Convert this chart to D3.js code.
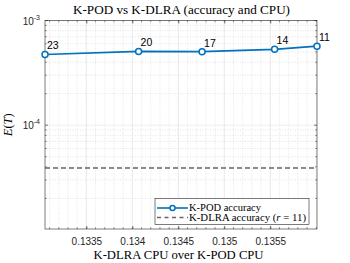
<!DOCTYPE html>
<html>
<head>
<meta charset="utf-8">
<script src="https://cdn.jsdelivr.net/npm/d3@7"></script>
<style>
  body { margin: 0; background: #fff; }
  svg { display: block; }
</style>
</head>
<body>
<div id="chart"></div>
<script>
// Data
var cpuRatio = [0.13305, 0.134068, 0.134758, 0.135547, 0.136008];
var kpodErr = [4.74e-4, 5.07e-4, 5.04e-4, 5.30e-4, 5.69e-4];
var rankLabels = ["23", "20", "17", "14", "11"];
var kdlraErr = 3.9e-5;
var xTicks = [0.1335, 0.134, 0.1345, 0.135, 0.1355];
var xTickLabels = ["0.1335", "0.134", "0.1345", "0.135", "0.1355"];
var yTicks = [1e-4, 1e-3];
var yTickExps = ["-4", "-3"];

var width = 350, height = 263;
var m = { left: 45, right: 33, top: 20.5, bottom: 34 };
var pw = width - m.left - m.right;
var ph = height - m.top - m.bottom;
var axCol = "#262626";
var blue = "#0072BD";

var svg = d3.select("#chart").append("svg")
	.attr("width", width)
	.attr("height", height);

var x = d3.scaleLinear()
	.domain([cpuRatio[0], cpuRatio[cpuRatio.length - 1]])
	.range([0, pw]);
var y = d3.scaleLog()
	.domain([1.02e-5, 1e-3])
	.range([ph, 0]);

var g = svg.append("g")
	.attr("transform", "translate(" + m.left + "," + m.top + ")");

// minor grid values
var xMinor = d3.range(0.1331, 0.1361, 0.0001).filter(function(v){ return v > x.domain()[0] && v < x.domain()[1]; });
var yMinor = [];
[1e-5, 1e-4].forEach(function(b){
	for (var k = 2; k <= 9; k++) { if (b * k > y.domain()[0]) yMinor.push(b * k); }
});

// minor grid (dotted)
g.append("g").selectAll("line.xm")
	.data(xMinor).enter().append("line")
	.attr("x1", function(d){ return x(d); }).attr("x2", function(d){ return x(d); })
	.attr("y1", 0).attr("y2", ph)
	.attr("stroke", "#d4d4d4").attr("stroke-width", 0.6)
	.attr("stroke-dasharray", "1,1.5");
g.append("g").selectAll("line.ym")
	.data(yMinor).enter().append("line")
	.attr("x1", 0).attr("x2", pw)
	.attr("y1", function(d){ return y(d); }).attr("y2", function(d){ return y(d); })
	.attr("stroke", "#d4d4d4").attr("stroke-width", 0.6)
	.attr("stroke-dasharray", "1,1.5");

// major grid (light solid)
g.append("g").selectAll("line.xg")
	.data(xTicks).enter().append("line")
	.attr("x1", function(d){ return x(d); }).attr("x2", function(d){ return x(d); })
	.attr("y1", 0).attr("y2", ph)
	.attr("stroke", "#e3e3e3").attr("stroke-width", 0.6);
g.append("g").selectAll("line.yg")
	.data(yTicks).enter().append("line")
	.attr("x1", 0).attr("x2", pw)
	.attr("y1", function(d){ return y(d); }).attr("y2", function(d){ return y(d); })
	.attr("stroke", "#e3e3e3").attr("stroke-width", 0.6);

// Axes, ticks inside
var xAxis = g.append("g")
	.attr("transform", "translate(0," + ph + ")")
	.call(d3.axisBottom(x).tickValues(xTicks).tickSize(-3)
		.tickFormat(function(d, i){ return xTickLabels[i]; }).tickPadding(9));
xAxis.select(".domain").remove();
xAxis.selectAll("text")
	.attr("font-family", "Liberation Sans, Arial, sans-serif")
	.attr("font-size", "10px").attr("fill", axCol);
xAxis.selectAll("line").attr("stroke", axCol).attr("stroke-width", 0.6);

var xTop = g.append("g")
	.call(d3.axisTop(x).tickValues(xTicks).tickSize(-3).tickFormat(""));
xTop.select(".domain").remove();
xTop.selectAll("line").attr("stroke", axCol).attr("stroke-width", 0.6);

// minor x ticks top and bottom
[0, ph].forEach(function(yy){
	g.append("g").selectAll("line")
		.data(xMinor).enter().append("line")
		.attr("x1", function(d){ return x(d); }).attr("x2", function(d){ return x(d); })
		.attr("y1", yy).attr("y2", yy === 0 ? 1.8 : ph - 1.8)
		.attr("stroke", axCol).attr("stroke-width", 0.5);
});
// y ticks left and right
[0, pw].forEach(function(xx){
	var dir = xx === 0 ? 1 : -1;
	g.append("g").selectAll("line")
		.data(yTicks).enter().append("line")
		.attr("x1", xx).attr("x2", xx + dir * 3)
		.attr("y1", function(d){ return y(d); }).attr("y2", function(d){ return y(d); })
		.attr("stroke", axCol).attr("stroke-width", 0.6);
	g.append("g").selectAll("line")
		.data(yMinor).enter().append("line")
		.attr("x1", xx).attr("x2", xx + dir * 1.8)
		.attr("y1", function(d){ return y(d); }).attr("y2", function(d){ return y(d); })
		.attr("stroke", axCol).attr("stroke-width", 0.5);
});

// y tick labels 10^k
var yl = g.append("g").selectAll("text")
	.data(yTicks).enter().append("text")
	.attr("x", -5).attr("y", function(d){ return y(d) + 4; })
	.attr("text-anchor", "end")
	.attr("font-family", "Liberation Sans, Arial, sans-serif")
	.attr("font-size", "10px").attr("fill", axCol);
yl.append("tspan").text("10");
yl.append("tspan").attr("font-size", "7px").attr("dy", -5).text(function(d, i){ return yTickExps[i]; });

// box
g.append("rect")
	.attr("width", pw).attr("height", ph)
	.attr("fill", "none").attr("stroke", axCol).attr("stroke-width", 0.6);

// K-DLRA reference line
g.append("line")
	.attr("x1", 0).attr("x2", pw)
	.attr("y1", y(kdlraErr)).attr("y2", y(kdlraErr))
	.attr("stroke", "#666").attr("stroke-width", 1.5)
	.attr("stroke-dasharray", "5,3");

// K-POD line
var pts = cpuRatio.map(function(d, i){ return [d, kpodErr[i]]; });
g.append("path")
	.datum(pts)
	.attr("fill", "none").attr("stroke", blue).attr("stroke-width", 1.6)
	.attr("d", d3.line().x(function(d){ return x(d[0]); }).y(function(d){ return y(d[1]); }));
g.selectAll("circle.pt")
	.data(pts).enter().append("circle")
	.attr("cx", function(d){ return x(d[0]); })
	.attr("cy", function(d){ return y(d[1]); })
	.attr("r", 3)
	.attr("fill", "#fff").attr("stroke", blue).attr("stroke-width", 1.5);

// rank labels
g.selectAll("text.rk")
	.data(pts).enter().append("text")
	.attr("x", function(d){ return x(d[0]) + 2; })
	.attr("y", function(d){ return y(d[1]) - 5; })
	.attr("font-family", "Liberation Sans, Arial, sans-serif")
	.attr("font-size", "10.5px").attr("fill", "#000")
	.text(function(d, i){ return rankLabels[i]; });

// legend
var legFont = "Liberation Serif, Times New Roman, serif";
var lg = svg.append("g").attr("transform", "translate(155,198.5)");
lg.append("rect")
	.attr("width", 154).attr("height", 26)
	.attr("fill", "#fff").attr("stroke", axCol).attr("stroke-width", 0.6);
lg.append("line").attr("x1", 2).attr("x2", 33).attr("y1", 9.5).attr("y2", 9.5)
	.attr("stroke", blue).attr("stroke-width", 1.6);
lg.append("circle").attr("cx", 17.5).attr("cy", 9.5).attr("r", 2.5)
	.attr("fill", "#fff").attr("stroke", blue).attr("stroke-width", 1.5);
lg.append("line").attr("x1", 2).attr("x2", 33).attr("y1", 19).attr("y2", 19)
	.attr("stroke", "#666").attr("stroke-width", 1.5).attr("stroke-dasharray", "4,3.5");
lg.append("text").attr("x", 34).attr("y", 12.8)
	.attr("font-family", legFont).attr("font-size", "10px").attr("fill", "#000")
	.attr("textLength", 72).attr("lengthAdjust", "spacingAndGlyphs")
	.text("K-POD accuracy");
var t2 = lg.append("text").attr("x", 34).attr("y", 22.3)
	.attr("font-family", legFont).attr("font-size", "10px").attr("fill", "#000")
	.attr("textLength", 117).attr("lengthAdjust", "spacingAndGlyphs");
t2.append("tspan").text("K-DLRA accuracy (");
t2.append("tspan").attr("font-style", "italic").text("r");
t2.append("tspan").text(" = 11)");

// title and axis labels
svg.append("text")
	.attr("x", 181.5).attr("y", 14)
	.attr("text-anchor", "middle")
	.attr("font-family", legFont).attr("font-size", "13px").attr("fill", "#000")
	.attr("textLength", 217).attr("lengthAdjust", "spacingAndGlyphs")
	.text("K-POD vs K-DLRA (accuracy and CPU)");
svg.append("text")
	.attr("x", 178.5).attr("y", 259)
	.attr("text-anchor", "middle")
	.attr("font-family", legFont).attr("font-size", "12px").attr("fill", "#000")
	.attr("textLength", 170).attr("lengthAdjust", "spacingAndGlyphs")
	.text("K-DLRA CPU over K-POD CPU");
var ylab = svg.append("text")
	.attr("transform", "translate(12," + (m.top + ph / 2) + ") rotate(-90)")
	.attr("text-anchor", "middle")
	.attr("font-family", legFont).attr("font-size", "12.5px").attr("fill", "#000");
ylab.append("tspan").attr("font-style", "italic").text("E");
ylab.append("tspan").text("(");
ylab.append("tspan").attr("font-style", "italic").text("T");
ylab.append("tspan").text(")");
</script>
</body>
</html>
